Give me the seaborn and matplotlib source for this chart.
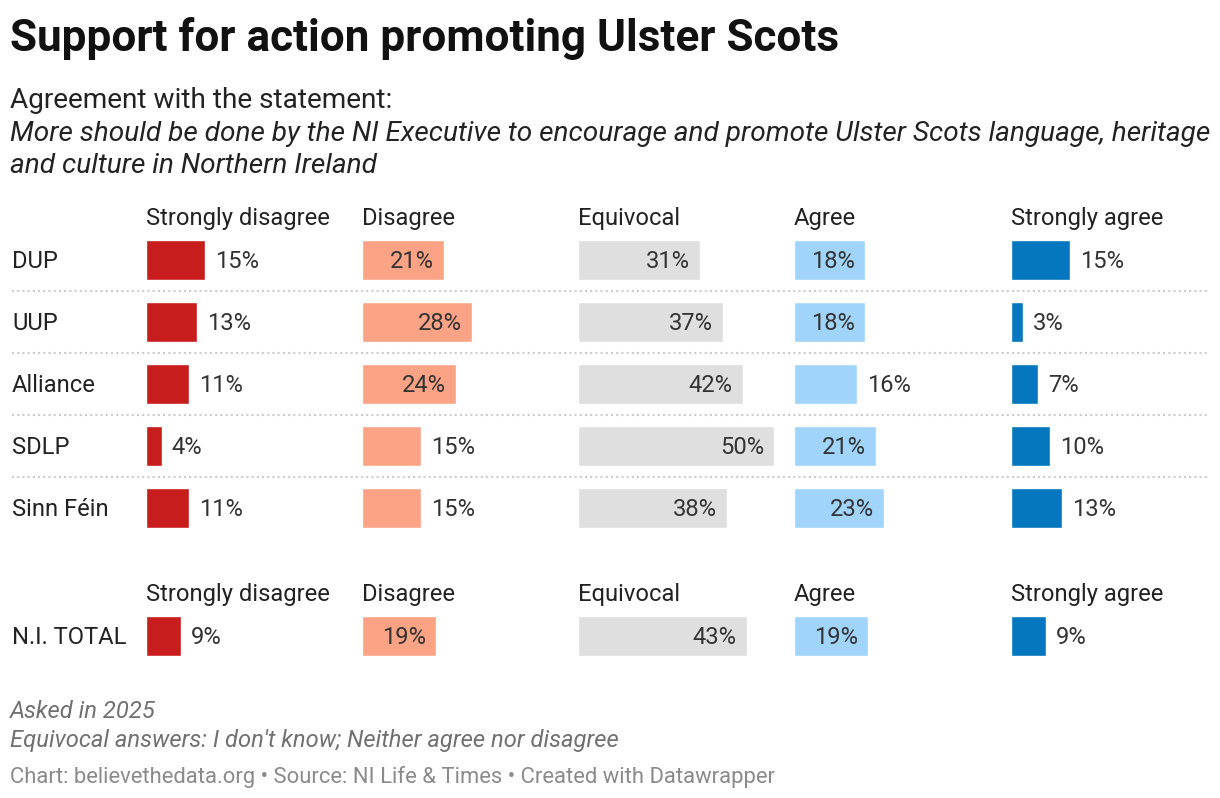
import pandas as pd
import numpy as np

import matplotlib
matplotlib.use('Agg')
import matplotlib.pyplot as plt
import matplotlib.transforms as mtransforms
import seaborn as sns

# datos
partidos = ['DUP', 'UUP', 'Alliance', 'SDLP', 'Sinn Féin']
columnas = ['Strongly disagree', 'Disagree', 'Equivocal', 'Agree', 'Strongly agree']
colores = ['#c71e1d', '#fca386', '#dfdfdf', '#a0d4fa', '#0577be']

strongly_disagree = [15, 13, 11, 4, 11]
disagree = [21, 28, 24, 15, 15]
equivocal = [31, 37, 42, 50, 38]
agree = [18, 18, 16, 21, 23]
strongly_agree = [15, 3, 7, 10, 13]

total_label = 'N.I. TOTAL'
total = [9, 19, 43, 19, 9]

valores = [strongly_disagree, disagree, equivocal, agree, strongly_agree]

sns.set_theme(style='white')
plt.rcParams['font.family'] = ['Roboto', 'DejaVu Sans']

W, H = 1220, 798
fig = plt.figure(figsize=(W / 100, H / 100), dpi=100)
fig.patch.set_facecolor('white')

# ejes de fondo en pixeles para textos y separadores
bg = fig.add_axes([0, 0, 1, 1])
bg.set_xlim(0, W)
bg.set_ylim(H, 0)
bg.axis('off')

fs = 17.1  # texto del cuerpo
dy = 2     # ajuste vertical del texto

bg.text(10, 36 + dy, 'Support for action promoting Ulster Scots', fontsize=31.8,
        fontweight='bold', color='#111111', va='center')
bg.text(10, 98 + dy, 'Agreement with the statement:', fontsize=20.2, color='#222222', va='center')
bg.text(10, 132 + dy, 'More should be done by the NI Executive to encourage and promote Ulster Scots language, heritage',
        fontsize=20.2, style='italic', color='#222222', va='center')
bg.text(10, 164 + dy, 'and culture in Northern Ireland', fontsize=20.2, style='italic',
        color='#222222', va='center')

bg.text(10, 710 + dy, 'Asked in 2025', fontsize=fs, style='italic', color='#707070', va='center')
bg.text(10, 738 + dy, "Equivocal answers: I don't know; Neither agree nor disagree", fontsize=fs,
        style='italic', color='#707070', va='center')
bg.text(10, 775 + dy, 'Chart: believethedata.org • Source: NI Life & Times • Created with Datawrapper',
        fontsize=15.8, color='#8a8a8a', va='center')

fila_y = [260, 322, 384, 446, 508]
for p, y in zip(partidos, fila_y):
    bg.text(12, y + dy, p, fontsize=fs, color='#222222', va='center')
for y in [291, 353, 415, 477]:
    bg.plot([12, 1208], [y, y], color='#cccccc', linestyle=(0, (1, 1.5)), linewidth=1.5)
bg.text(12, 636 + dy, total_label, fontsize=fs, color='#222222', va='center')

col_x = [146, 362, 578, 794, 1011]
px_por_pct = 3.92
col_w = 216


def dibujar(ax, vals, cats, color):
    df = pd.DataFrame({'cat': cats, 'val': vals})
    sns.barplot(data=df, x='val', y='cat', orient='h', color=color, saturation=1,
                width=0.645, errorbar=None, ax=ax)
    ax.set_xlim(0, col_w / px_por_pct)
    ax.set_ylim(len(cats) - 0.5, -0.5)
    ax.axis('off')
    tr = mtransforms.offset_copy(ax.transData, fig=fig, y=-dy, units='dots')
    pad = 10 / px_por_pct
    for i, v in enumerate(vals):
        if v >= 17:
            ax.text(v - pad, i, f'{v}%', ha='right', va='center', fontsize=fs,
                    color='#333333', transform=tr)
        else:
            ax.text(v + pad, i, f'{v}%', ha='left', va='center', fontsize=fs,
                    color='#333333', transform=tr)


for i, (nombre, vals, c) in enumerate(zip(columnas, valores, colores)):
    x0 = col_x[i]
    bg.text(x0, 216 + dy, nombre, fontsize=fs, color='#222222', va='center')
    bg.text(x0, 592 + dy, nombre, fontsize=fs, color='#222222', va='center')
    ax = fig.add_axes([x0 / W, (H - 539) / H, col_w / W, 310 / H])
    dibujar(ax, vals, partidos, c)
    axt = fig.add_axes([x0 / W, (H - 667) / H, col_w / W, 62 / H])
    dibujar(axt, [total[i]], [total_label], c)

fig.savefig('out.png', dpi=100)
